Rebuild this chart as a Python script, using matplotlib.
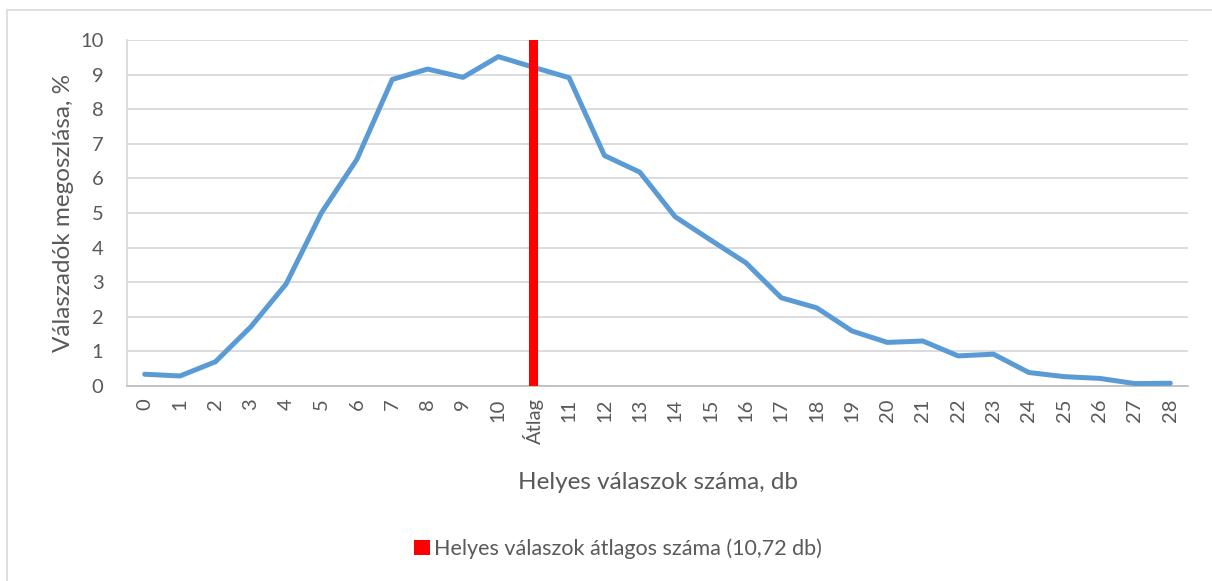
import matplotlib.pyplot as plt
from matplotlib.patches import Rectangle

# categories on the x axis ("Átlag" sits between 10 and 11)
categories = [str(i) for i in range(11)] + ["Átlag"] + [str(i) for i in range(11, 29)]

# share of respondents, %
share = [0.34, 0.29, 0.70, 1.71, 2.95, 5.01, 6.55, 8.86, 9.16, 8.92, 9.52,
         9.21,
         8.91, 6.66, 6.18, 4.89, 4.22, 3.56, 2.55, 2.26, 1.59, 1.26, 1.30,
         0.87, 0.92, 0.39, 0.27, 0.22, 0.07, 0.08]

# average marker bar
avg_category = "Átlag"
avg_height = 10
avg_label = "Helyes válaszok átlagos száma (10,72 db)"

TEXT = "#595959"
GRID = "#D9D9D9"

plt.rcParams['font.family'] = ['Lato', 'DejaVu Sans']

fig = plt.figure(figsize=(12.12, 5.81), dpi=100)
ax = fig.add_axes([127/1212, 195/581, (1188-127)/1212, (386-40)/581])

x = list(range(len(categories)))
ax.plot(x, share, color="#5B9BD5", linewidth=3.6, solid_capstyle="round", zorder=3)
ax.bar(categories.index(avg_category), avg_height, width=0.25, color="#FF0000",
       label=avg_label, zorder=4)

ax.set_xlim(-0.5, len(categories) - 0.5)
ax.set_ylim(0, 10)
ax.set_yticks(range(0, 11))
ax.set_xticks(x)
ax.set_xticklabels(categories, rotation=90)
ax.tick_params(axis="both", length=0, labelsize=14.5, labelcolor=TEXT)
ax.tick_params(axis="y", pad=17)
ax.tick_params(axis="x", pad=9)

ax.grid(axis="y", color=GRID, linewidth=1.3)
ax.set_axisbelow(True)
for side in ["top", "right"]:
    ax.spines[side].set_visible(False)
ax.spines["left"].set_color(GRID)
ax.spines["left"].set_linewidth(1.3)
ax.spines["bottom"].set_color("#BFBFBF")
ax.spines["bottom"].set_linewidth(1.3)

ax.set_xlabel("Helyes válaszok száma, db", fontsize=17.5, color=TEXT, labelpad=20)
ax.set_ylabel("Válaszadók megoszlása, %", fontsize=17.5, color=TEXT, labelpad=4)

fig.legend(loc="center", bbox_to_anchor=(0.51, 1 - 549/581), frameon=False,
           fontsize=15.5, labelcolor=TEXT, handlelength=0.7, handleheight=0.7,
           handletextpad=0.2)

# outer chart border
fig.patches.append(Rectangle((7/1212, -0.1), 1.2, 1 - 10/581 + 0.1,
                             transform=fig.transFigure, fill=False,
                             edgecolor=GRID, linewidth=1.2))

fig.savefig("out.png", dpi=100)
